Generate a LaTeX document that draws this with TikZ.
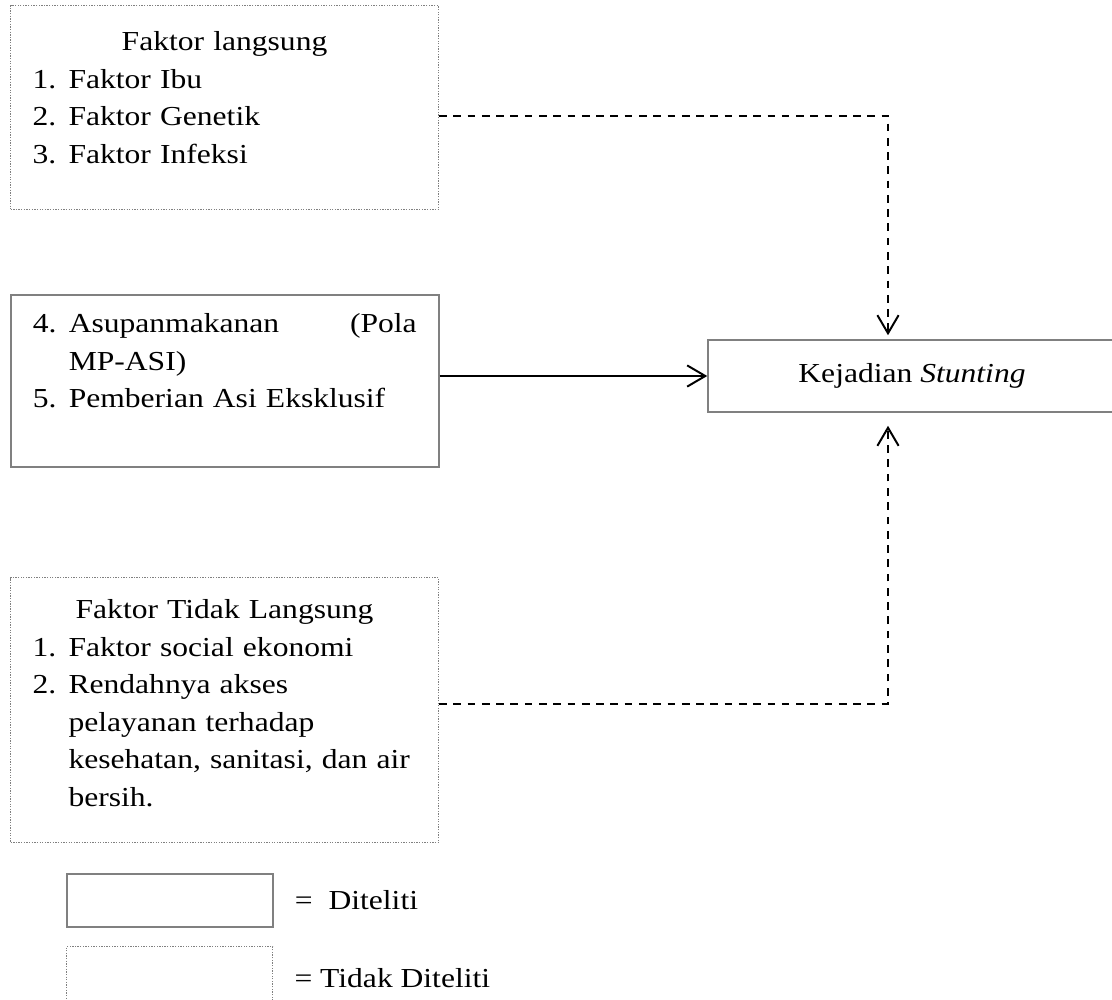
\documentclass[tikz,border=0pt]{standalone}
\usepackage{fontspec}
\setmainfont{Liberation Serif}[FakeStretch=1.15]
\usepackage{tikz}
\usetikzlibrary{arrows.meta,positioning}
\definecolor{garisabu}{RGB}{128,128,128}

\begin{document}
\begin{tikzpicture}[
    teliti/.style={draw=garisabu, line width=0.7pt},
    takteliti/.style={draw=garisabu, line width=0.5pt, dash pattern=on 0.6pt off 0.6pt},
    isi/.style={anchor=north west, text width=6.144cm, inner xsep=0.352cm, inner ysep=0pt,
        align=left, font=\fontsize{12.5pt}{17.07pt}\selectfont},
    panah/.style={-{Straight Barb[length=0.29cm, width=0.34cm]}, line width=0.9pt},
    panahputus/.style={panah, dash pattern=on 3.5pt off 3pt},
    ket/.style={font=\fontsize{12.5pt}{15pt}\selectfont, inner sep=0pt},
]
\useasboundingbox (0,0) rectangle (17.792,-15.984);
\clip (0,0) rectangle (17.792,-15.984);

% === Kotak faktor (kiri) ===
\node[isi, takteliti, text height=0.72cm, text depth=2.544cm] (langsung) at (0.16,-0.08) {%
    \makebox[6.144cm]{Faktor langsung}\\
    \makebox[0.576cm][l]{1.}Faktor Ibu\\
    \makebox[0.576cm][l]{2.}Faktor Genetik\\
    \makebox[0.576cm][l]{3.}Faktor Infeksi};

\node[isi, teliti, text height=0.608cm, text depth=2.144cm] (asupan) at (0.16,-4.704) {%
    \makebox[0.576cm][l]{4.}\makebox[5.568cm][l]{Asupanmakanan\hfill(Pola}\\
    \hspace*{0.576cm}MP-ASI)\\
    \makebox[0.576cm][l]{5.}Pemberian Asi Eksklusif};

\node[isi, takteliti, text height=0.656cm, text depth=3.584cm] (taklangsung) at (0.16,-9.232) {%
    \makebox[6.144cm]{Faktor Tidak Langsung}\\
    \makebox[0.576cm][l]{1.}Faktor social ekonomi\\
    \makebox[0.576cm][l]{2.}Rendahnya akses\\
    \hspace*{0.576cm}pelayanan terhadap\\
    \hspace*{0.576cm}\mbox{kesehatan, sanitasi, dan air}\\
    \hspace*{0.576cm}bersih.};

% === Kotak hasil (kanan) ===
\node[teliti, ket, minimum width=6.528cm, minimum height=1.152cm] (stunting) at (14.592,-6.016)
    {Kejadian \textit{Stunting}};

% === Keterangan ===
\node[teliti, minimum width=3.296cm, minimum height=0.848cm, anchor=north west] (kotakA) at (1.056,-13.968) {};
\node[takteliti, minimum width=3.296cm, minimum height=0.9cm, anchor=north west] (kotakB) at (1.056,-15.136) {};
\node[ket, right=0.336cm of kotakA] (ketA) {= \ Diteliti};
\node[ket, right=0.336cm of kotakB, yshift=-0.056cm] (ketB) {= Tidak Diteliti};

% === Panah ===
\draw[panahputus] ([yshift=-0.128cm]langsung.east) -| ([xshift=-0.384cm, yshift=0.064cm]stunting.north);
\draw[panah] (asupan.east |- stunting.west) -- (stunting.west);
\draw[panahputus] ([yshift=0.104cm]taklangsung.east) -| ([xshift=-0.384cm, yshift=-0.208cm]stunting.south);

\end{tikzpicture}
\end{document}
